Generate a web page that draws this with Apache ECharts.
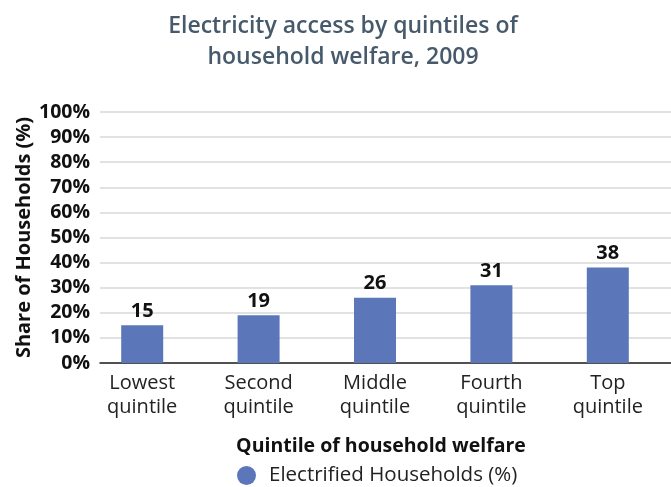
<!DOCTYPE html>
<html>
<head>
<meta charset="utf-8">
<script src="https://cdn.jsdelivr.net/npm/echarts@6/dist/echarts.min.js"></script>
<style>
  html, body { margin: 0; padding: 0; background: #fff; }
  #chart { width: 671px; height: 487px; }
</style>
</head>
<body>
<div id="chart"></div>
<script>
// Share of electrified households by welfare quintile, 2009
const titleLines = ['Electricity access by quintiles of', 'household welfare, 2009'];
const categories = ['Lowest\nquintile', 'Second\nquintile', 'Middle\nquintile', 'Fourth\nquintile', 'Top\nquintile'];
const electrified = [15, 19, 26, 31, 38];
const seriesName = 'Electrified Households (%)';
const yAxisName = 'Share of Households (%)';
const xAxisName = 'Quintile of household welfare';

const FONT = '"Open Sans", "Noto Sans", sans-serif';
const BAR = '#5b76b9';

const chart = echarts.init(document.getElementById('chart'), null, { renderer: 'canvas' });

chart.setOption({
  backgroundColor: '#ffffff',
  animation: false,
  textStyle: { fontFamily: FONT },
  title: {
    text: titleLines.join('\n'),
    left: 338,
    textAlign: 'center',
    top: 6,
    textStyle: {
      fontFamily: FONT,
      fontSize: 23,
      fontWeight: 600,
      color: '#475a6b',
      lineHeight: 31
    }
  },
  legend: {
    data: [seriesName],
    left: 232,
    top: 460,
    icon: 'circle',
    itemWidth: 19,
    itemHeight: 19,
    itemGap: 10,
    textStyle: { fontFamily: FONT, fontSize: 20.5, color: '#222', padding: [0, 0, 0, 8] }
  },
  grid: [
    // frame: value gridlines and baseline
    { left: 100, right: 0, top: 112, bottom: 124 },
    // bar band layout
    { left: 84, right: 5, top: 112, bottom: 124 }
  ],
  xAxis: [
    {
      gridIndex: 0,
      type: 'category',
      data: [''],
      axisLine: { show: true, lineStyle: { color: '#222', width: 1.5 } },
      axisTick: { show: false },
      axisLabel: { show: false },
      splitLine: { show: false },
      name: xAxisName,
      nameLocation: 'middle',
      nameGap: 73,
      nameTextStyle: {
        fontFamily: FONT,
        fontSize: 19.5,
        fontWeight: 'bold',
        color: '#111',
        padding: [0, 9, 0, 0]
      }
    },
    {
      gridIndex: 1,
      type: 'category',
      data: categories,
      axisLine: { show: false },
      axisTick: { show: false },
      axisLabel: {
        fontFamily: FONT,
        fontSize: 20,
        color: '#222',
        lineHeight: 24,
        margin: 8
      }
    }
  ],
  yAxis: [
    {
      gridIndex: 0,
      type: 'value',
      min: 0,
      max: 100,
      interval: 10,
      axisLine: { show: false },
      axisTick: { show: false },
      axisLabel: {
        formatter: '{value}%',
        fontFamily: FONT,
        fontSize: 19.5,
        fontWeight: 'bold',
        color: '#111',
        margin: 10
      },
      splitLine: { show: true, lineStyle: { color: '#d9d9d9', width: 1.5 } },
      name: yAxisName,
      nameLocation: 'middle',
      nameRotate: 90,
      nameGap: 66,
      nameMoveOverlap: false,
      nameTextStyle: {
        fontFamily: FONT,
        fontSize: 20,
        fontWeight: 'bold',
        color: '#111'
      }
    },
    {
      gridIndex: 1,
      type: 'value',
      min: 0,
      max: 100,
      interval: 10,
      show: false,
      splitLine: { show: false }
    }
  ],
  series: [
    {
      name: seriesName,
      type: 'bar',
      xAxisIndex: 1,
      yAxisIndex: 1,
      data: electrified,
      barWidth: 42,
      itemStyle: { color: BAR },
      label: {
        show: true,
        position: 'top',
        distance: 4,
        fontFamily: FONT,
        fontSize: 20,
        fontWeight: 'bold',
        color: '#111'
      }
    }
  ]
});
</script>
</body>
</html>
